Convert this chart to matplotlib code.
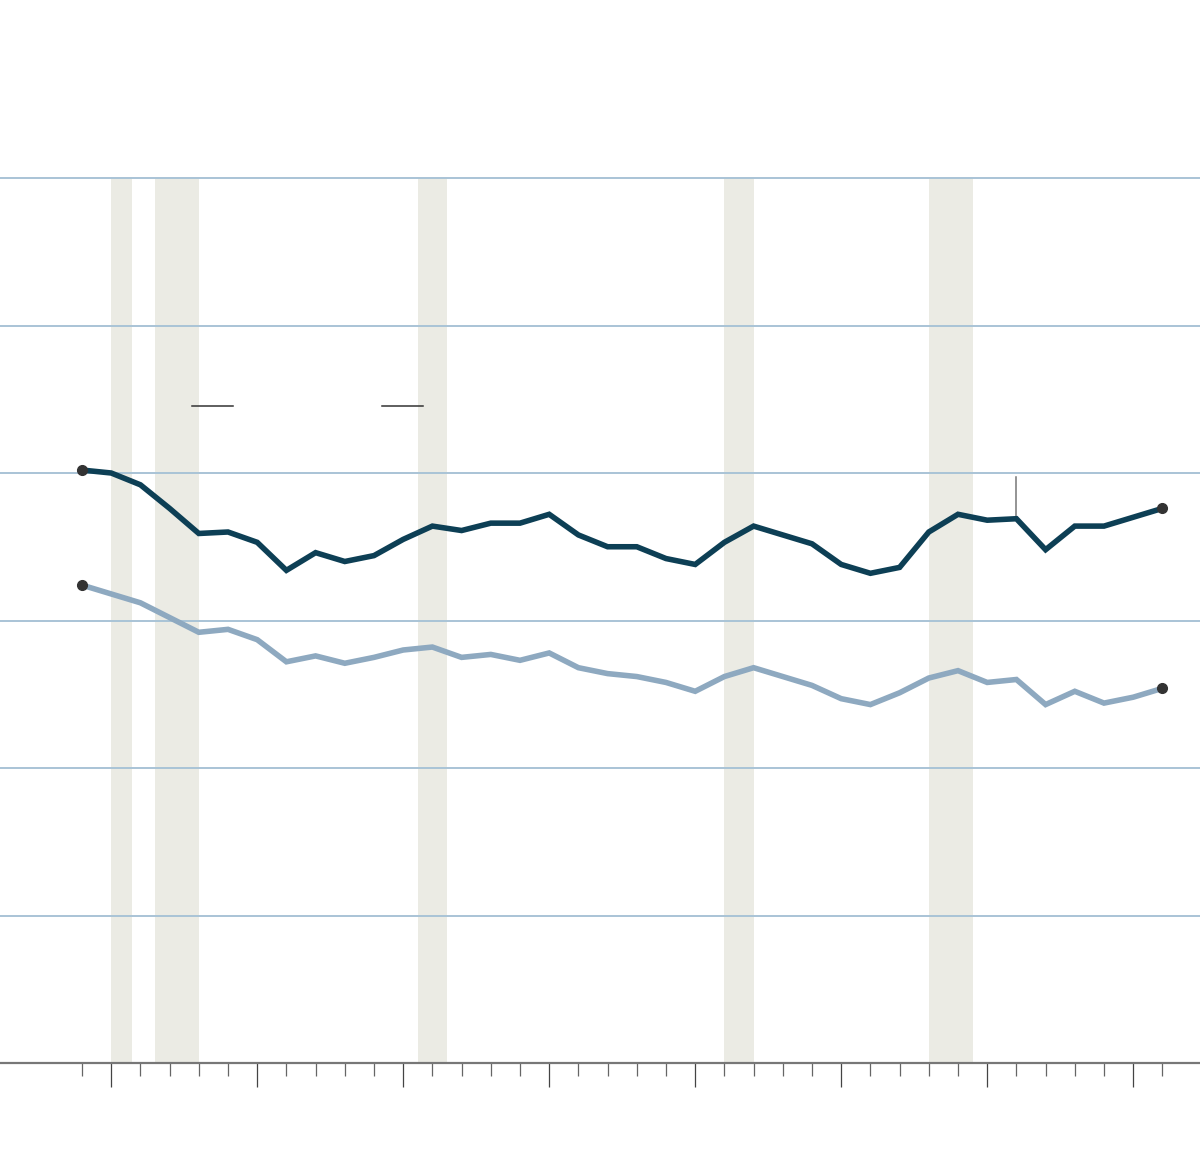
import numpy as np
import matplotlib
matplotlib.use("Agg")
import matplotlib.pyplot as plt

# years shown on the chart
years = list(range(1979, 2017))

# dark series
dark_values = [40.2, 40.0, 39.2, 37.6, 35.9, 36.0, 35.3, 33.4, 34.6, 34.0,
               34.4, 35.5, 36.4, 36.1, 36.6, 36.6, 37.2, 35.8, 35.0, 35.0,
               34.2, 33.8, 35.3, 36.4, 35.8, 35.2, 33.8, 33.2, 33.6, 36.0,
               37.2, 36.8, 36.9, 34.8, 36.4, 36.4, 37.0, 37.6]

# light series
light_values = [32.4, 31.8, 31.2, 30.2, 29.2, 29.4, 28.7, 27.2, 27.6, 27.1,
                27.5, 28.0, 28.2, 27.5, 27.7, 27.3, 27.8, 26.8, 26.4, 26.2,
                25.8, 25.2, 26.2, 26.8, 26.2, 25.6, 24.7, 24.3, 25.1, 26.1,
                26.6, 25.8, 26.0, 24.3, 25.2, 24.4, 24.8, 25.4]

# recession periods (start, end) in fractional years
recessions = [(1980.0, 1980.72), (1981.5, 1983.0), (1990.5, 1991.5),
              (2001.0, 2002.0), (2008.0, 2009.5)]

grid_values = [10, 20, 30, 40, 50, 60]
major_years = list(range(1980, 2017, 5))

DARK = "#0d3f55"
LIGHT = "#8ea9c0"
GRID = "#a9c3d6"
SHADE = "#ebebe4"

fig = plt.figure(figsize=(12, 11.7), dpi=100)
ax = fig.add_axes([0, 1 - 1063 / 1170, 1, (1063 - 178) / 1170])

ax.set_xlim(1979 - 82 / 29.2, 1979 + 1118 / 29.2)
ax.set_ylim(0, 60)

for start, end in recessions:
    ax.axvspan(start, end, color=SHADE, lw=0, zorder=0)

for g in grid_values:
    ax.axhline(g, color=GRID, lw=1.4, zorder=1, clip_on=False)

ax.plot(years, light_values, color=LIGHT, lw=4.0, zorder=3, solid_joinstyle="miter")
ax.plot(years, dark_values, color=DARK, lw=4.0, zorder=4, solid_joinstyle="miter")

# end points
for series in (dark_values, light_values):
    ax.plot([years[0], years[-1]], [series[0], series[-1]], "o",
            color="#333333", ms=7, zorder=5)

# legend keys
ax.plot([1982.77, 1984.17], [44.55, 44.55], color="#333333", lw=1.1, zorder=5)
ax.plot([1989.27, 1990.68], [44.55, 44.55], color="#333333", lw=1.1, zorder=5)

# annotation stem
ax.plot([2011, 2011], [dark_values[32], 39.7], color="#777777", lw=1.1, zorder=3)

for side in ("left", "right", "top"):
    ax.spines[side].set_visible(False)
ax.spines["bottom"].set_color("#777777")
ax.spines["bottom"].set_linewidth(1.6)

ax.set_xticks(major_years)
ax.set_xticks(years, minor=True)
ax.set_yticks([])
ax.tick_params(axis="x", which="major", length=17.5, width=0.9,
               color="#444444", labelbottom=False)
ax.tick_params(axis="x", which="minor", length=9, width=0.9,
               color="#666666")

fig.savefig("out.png", dpi=100, facecolor="white")
